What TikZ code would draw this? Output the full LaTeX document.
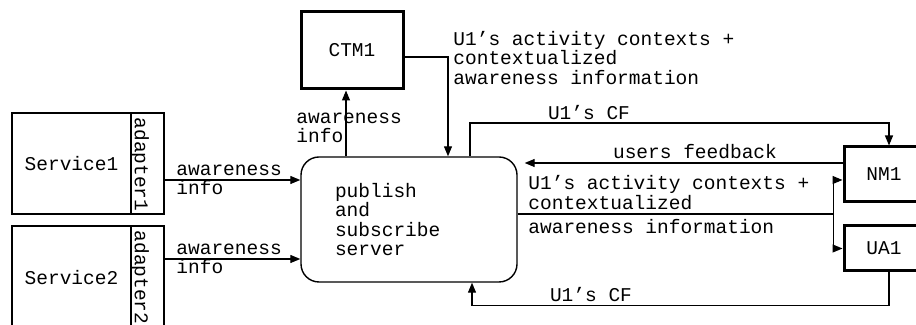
\documentclass[tikz,border=0pt]{standalone}
\usepackage{fontspec}
\setmainfont{Liberation Mono}
\usetikzlibrary{arrows.meta}

\begin{document}
\begin{tikzpicture}[x=0.5pt, y=-0.5pt,
    lbl/.style={inner sep=0pt, align=left, font=\fontsize{9.75pt}{9.75pt}\selectfont},
    box/.style={draw, line width=0.6pt, inner sep=0pt, font=\fontsize{9.75pt}{9.75pt}\selectfont},
    thickbox/.style={box, line width=1.5pt},
    flow/.style={line width=0.6pt, -{Triangle[length=5pt, width=4pt]}}]
    \useasboundingbox (0,0) rectangle (916,325);
    \clip (0,0) rectangle (916,325);
    % services with their adapters
    \node [box, minimum width=59.5pt, minimum height=50.5pt] (service1) at (71.5,163.5) {Service1};
    \node [box, minimum width=16.5pt, minimum height=50.5pt] (adapter1) at (147.5,163.5) {};
    \node [lbl, rotate=-90, anchor=south west] (adapter1txt) at ([yshift=-2.5pt]adapter1.north west) {adapter1};
    \node [box, minimum width=59.5pt, minimum height=52pt] (service2) at (71.5,278) {Service2};
    \node [box, minimum width=16.5pt, minimum height=52pt] (adapter2) at (147.5,278) {};
    \node [lbl, rotate=-90, anchor=south west] (adapter2txt) at ([yshift=-2.5pt]adapter2.north west) {adapter2};
    % server and managers
    \node [box, line width=0.7pt, rounded corners=9pt, align=left, text width=74pt, inner xsep=17pt, minimum height=62.5pt] (server) at (409,219.5) {publish\\and\\subscribe\\server};
    \node [thickbox, minimum width=51pt, minimum height=38.5pt] (ctm) at (352,50.5) {CTM1};
    \node [thickbox, minimum width=40pt, minimum height=27.5pt] (nm) at (884,174.5) {NM1};
    \node [thickbox, minimum width=40pt, minimum height=22.5pt] (ua) at (884,248.5) {UA1};
    % flows
    \draw [flow] ([yshift=-8.25pt]adapter1.east) -- ([yshift=-8.25pt]adapter1.east -| server.west);
    \node [lbl, anchor=west] (info1) at (176,180) {awareness\\info};
    \draw [flow] ([yshift=9.5pt]adapter2.east) -- ([yshift=9.5pt]adapter2.east -| server.west);
    \node [lbl, anchor=west] (info2) at (176,259) {awareness\\info};
    \draw [flow] ([xshift=-31.5pt]server.north) -- ([xshift=-31.5pt]server.north |- ctm.south);
    \node [lbl, anchor=west] (info3) at (296,128) {awareness\\info};
    \draw [flow] ([yshift=-3.25pt]ctm.east) -| ([xshift=19.5pt]server.north);
    \node [lbl, anchor=west] (ctx1) at (453,58) {U1's activity contexts +\\contextualized\\awareness information};
    \coordinate (cftop) at (470,123);
    \draw [flow] (cftop |- server.north) -- (cftop) -| ([xshift=2.5pt]nm.north);
    \node [lbl] (cf1) at (589,113) {U1's CF};
    \draw [flow, shorten >=3.5pt] ([yshift=5.75pt]nm.west) -- ([yshift=5.75pt]nm.west -| server.east);
    \node [lbl] (fb) at (695,152) {users feedback};
    \draw [line width=0.6pt] ([yshift=2.75pt]server.east) -- ++(158pt,0) coordinate (split);
    \draw [flow] (split) |- ([yshift=-2.75pt]nm.west);
    \draw [flow] (split) |- (ua.west);
    \node [lbl, anchor=south west] (ctx2) at (528,210) {U1's activity contexts +\\contextualized};
    \node [lbl, anchor=north west] (ctx3) at (528,219) {awareness information};
    \draw [flow] ([xshift=2.5pt]ua.south) -- ++(0,-16.5pt) -| ([xshift=31.5pt]server.south);
    \node [lbl] (cf2) at (591,295) {U1's CF};
\end{tikzpicture}
\end{document}
